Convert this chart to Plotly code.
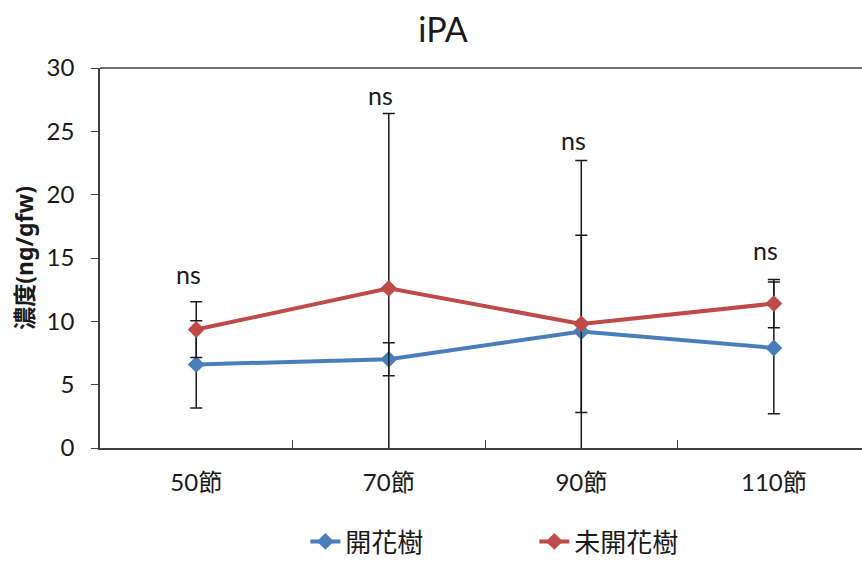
import plotly.graph_objects as go

# Sampling positions along the shoot
categories = ["50節", "70節", "90節", "110節"]

# Flowering trees (開花樹)
flowering_mean = [6.6, 7.0, 9.2, 7.9]
flowering_err = [3.45, 1.3, 13.5, 5.2]

# Non-flowering trees (未開花樹)
nonflowering_mean = [9.35, 12.6, 9.8, 11.4]
nonflowering_err = [2.2, 13.8, 7.0, 1.9]

# Significance labels and their heights on the y scale
sig_labels = ["ns", "ns", "ns", "ns"]
sig_y = [13.7, 27.9, 24.3, 15.6]

BLUE = "#4A7EBB"
RED = "#BE4B48"
TEXT = "#1a1a1a"
FONT = "Lato, Noto Sans CJK TC, sans-serif"

fig = go.Figure()

for name, mean, err, color in [
    ("開花樹", flowering_mean, flowering_err, BLUE),
    ("未開花樹", nonflowering_mean, nonflowering_err, RED),
]:
    fig.add_trace(go.Scatter(
        x=categories, y=mean, name=name, mode="lines+markers",
        line=dict(color=color, width=4),
        marker=dict(symbol="diamond", size=13, color=color),
        error_y=dict(type="data", array=err, visible=True,
                     color="#1a1a1a", thickness=1.5, width=6),
    ))

for cat, lab, yv in zip(categories, sig_labels, sig_y):
    fig.add_annotation(x=cat, y=yv, text=lab, showarrow=False,
                       xshift=-8, font=dict(size=25, color=TEXT, family=FONT))

fig.add_annotation(x=-0.1, y=0.5, xref="paper", yref="paper",
                   xanchor="center", yanchor="middle",
                   text="<b>濃度(ng/gfw)</b>", textangle=-90, showarrow=False,
                   font=dict(size=23, color=TEXT, family="Noto Sans, Noto Sans CJK TC, sans-serif"))

fig.update_layout(
    width=862, height=565,
    margin=dict(l=100, r=0, t=68, b=116),
    paper_bgcolor="white", plot_bgcolor="white",
    font=dict(family=FONT, color=TEXT),
    title=dict(text="iPA", x=0.514, xanchor="center", y=0.947, yanchor="middle",
               font=dict(size=34, color=TEXT, family=FONT)),
    showlegend=True,
    legend=dict(orientation="h", x=0.57, xanchor="center", y=-0.245,
                yanchor="middle", font=dict(size=26, color=TEXT),
                entrywidth=184, traceorder="normal"),
    xaxis=dict(
        type="category", range=[-0.5, 3.458],
        showline=True, linecolor="#404040", linewidth=1.5,
        mirror=False, tickson="boundaries", ticks="inside",
        ticklen=8, tickcolor="#404040", tickwidth=1.2,
        tickfont=dict(size=24, color=TEXT), showgrid=False,
        ticklabelstandoff=12,
    ),
    yaxis=dict(
        range=[0, 30], dtick=5, showline=True, linecolor="#404040",
        linewidth=1.5, ticks="outside", ticklen=7, tickcolor="#404040",
        tickfont=dict(size=24, color=TEXT), showgrid=False, zeroline=False,
        ticklabelstandoff=12,
    ),
)

# top border of the plot area
fig.add_shape(type="line", xref="paper", yref="paper", x0=0, x1=1, y0=1, y1=1,
              line=dict(color="#404040", width=1.5))

fig.write_html("out.html")
